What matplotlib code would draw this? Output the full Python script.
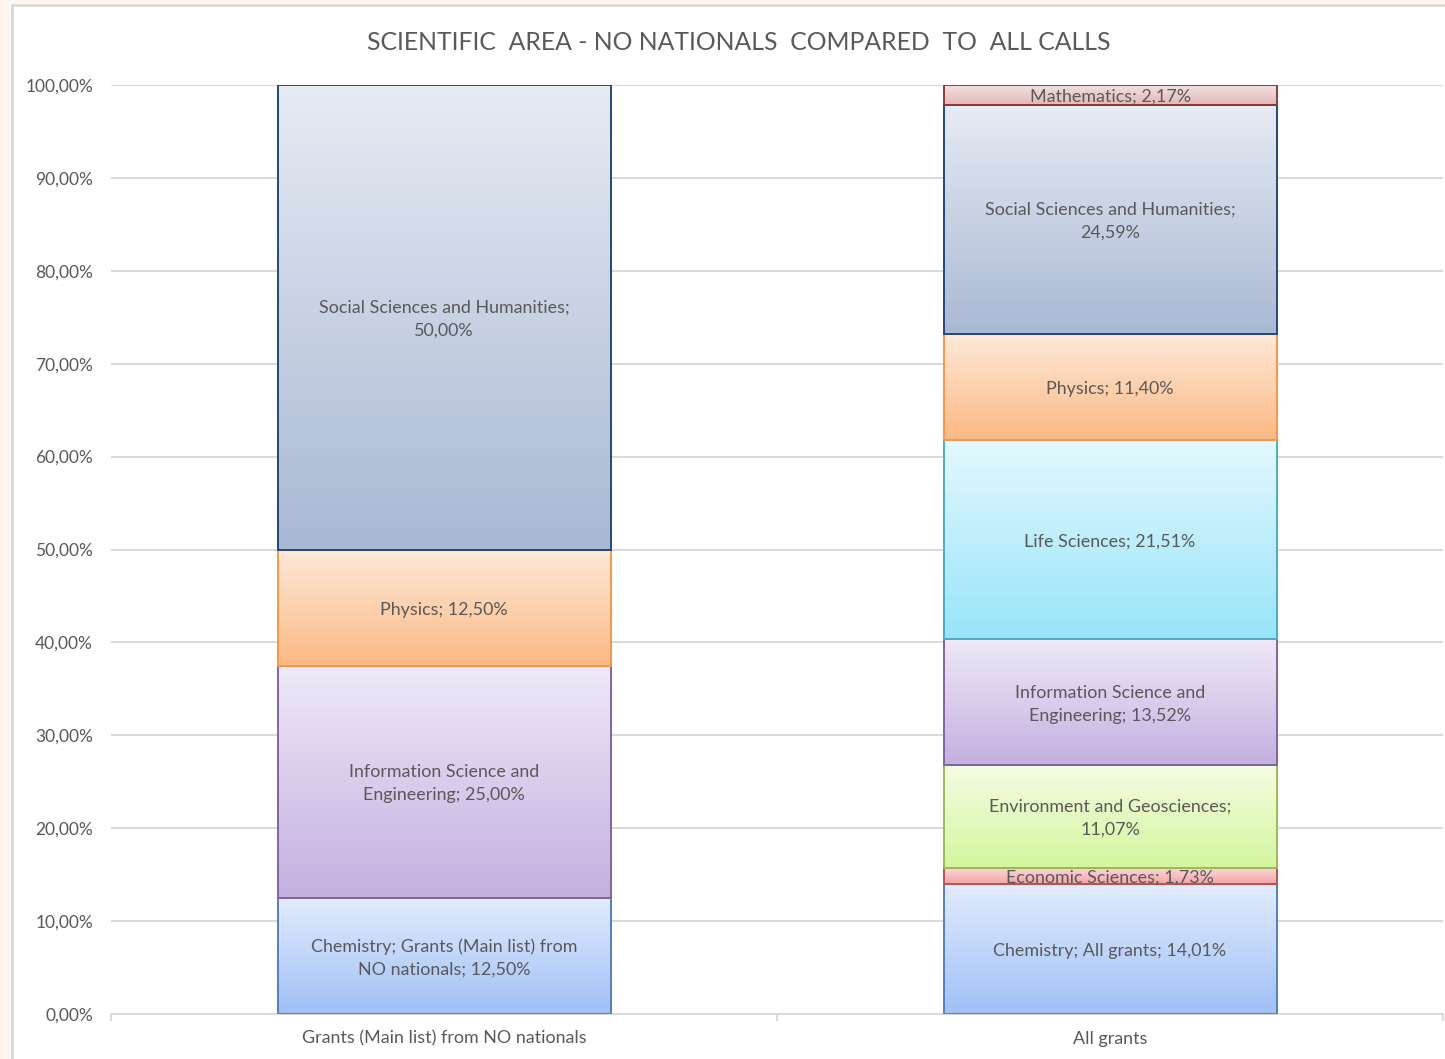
import matplotlib
matplotlib.use("Agg")
import matplotlib.pyplot as plt
import numpy as np
from matplotlib.patches import Rectangle
from matplotlib.colors import LinearSegmentedColormap
from matplotlib.ticker import FuncFormatter, FixedLocator
from matplotlib.transforms import offset_copy

plt.rcParams['font.family'] = ['Lato', 'DejaVu Sans']

categories = ["Grants (Main list) from NO nationals", "All grants"]
areas = ["Chemistry", "Economic Sciences", "Environment and Geosciences",
         "Information Science and Engineering", "Life Sciences", "Physics",
         "Social Sciences and Humanities", "Mathematics"]
no_nationals = [12.50, 0.0, 0.0, 25.00, 0.0, 12.50, 50.00, 0.0]
all_grants = [14.01, 1.73, 11.07, 13.52, 21.51, 11.40, 24.59, 2.17]

# label texts (manually wrapped as in the original)
labels_left = {
    "Chemistry": "Chemistry; Grants (Main list) from\nNO nationals; 12,50%",
    "Information Science and Engineering": "Information Science and\nEngineering; 25,00%",
    "Physics": "Physics; 12,50%",
    "Social Sciences and Humanities": "Social Sciences and Humanities;\n50,00%",
}
labels_right = {
    "Chemistry": "Chemistry; All grants; 14,01%",
    "Economic Sciences": "Economic Sciences; 1,73%",
    "Environment and Geosciences": "Environment and Geosciences;\n11,07%",
    "Information Science and Engineering": "Information Science and\nEngineering; 13,52%",
    "Life Sciences": "Life Sciences; 21,51%",
    "Physics": "Physics; 11,40%",
    "Social Sciences and Humanities": "Social Sciences and Humanities;\n24,59%",
    "Mathematics": "Mathematics; 2,17%",
}

# (top colour, bottom colour, edge colour)
styles = {
    "Chemistry": ("#e3ecfc", "#9fc0f7", "#4f81bd"),
    "Economic Sciences": ("#fbdcdc", "#f4a3a3", "#c0504d"),
    "Environment and Geosciences": ("#f4fde4", "#d4f59c", "#9bbb59"),
    "Information Science and Engineering": ("#efe9f7", "#c3b0e0", "#8064a2"),
    "Life Sciences": ("#e4f8fe", "#97e5fa", "#4bacc6"),
    "Physics": ("#fee9d9", "#fbb983", "#f79646"),
    "Social Sciences and Humanities": ("#e7ebf3", "#a9b8d3", "#1f497d"),
    "Mathematics": ("#f3e1e1", "#e2b8b8", "#953735"),
}

W, H = 1445, 1059
fig = plt.figure(figsize=(W / 100, H / 100), dpi=100)
fig.patch.set_facecolor("#fdf5ee")
bg = Rectangle((12 / W, -0.01), 1.0, 1.01 - 5 / H, transform=fig.transFigure,
               facecolor="white", edgecolor="#d9d9d9", linewidth=2.0, zorder=-10)
fig.add_artist(bg)

ax = fig.add_axes([111 / W, 1 - 1014 / H, (1443 - 111) / W, (1014 - 85) / H])
ax.set_facecolor("none")
ax.set_zorder(1)
text_tr = offset_copy(ax.transData, fig=fig, x=0, y=-2, units="dots")

x = np.arange(len(categories))
series = [no_nationals, all_grants]
label_maps = [labels_left, labels_right]

grad = np.linspace(0, 1, 256).reshape(-1, 1)
bottoms = np.zeros(len(categories))
for i, area in enumerate(areas):
    vals = np.array([s[i] for s in series])
    top_c, bot_c, edge_c = styles[area]
    cmap = LinearSegmentedColormap.from_list(area, [top_c, bot_c])
    bars = ax.bar(x, vals, width=0.5, bottom=bottoms, facecolor="none",
                  edgecolor=edge_c, linewidth=1.4, zorder=3)
    for j, b in enumerate(bars):
        if vals[j] <= 0:
            b.set_visible(False)
            continue
        x0, y0, w, h = b.get_x(), b.get_y(), b.get_width(), b.get_height()
        im = ax.imshow(grad, cmap=cmap, aspect="auto",
                       extent=(x0, x0 + w, y0, y0 + h), origin="upper",
                       zorder=2, interpolation="bilinear")
        im.set_clip_path(b)
        txt = label_maps[j].get(area)
        if txt:
            ax.text(x0 + w / 2, y0 + h / 2, txt, ha="center", va="center",
                    fontsize=12.9, color="#595959", zorder=5, linespacing=1.55,
                    transform=text_tr)
    bottoms = bottoms + vals

ax.set_xlim(-0.5, 1.5)
ax.set_ylim(0, 100)
ax.yaxis.set_major_locator(FixedLocator(np.arange(0, 101, 10)))
ax.yaxis.set_major_formatter(FuncFormatter(lambda v, p: f"{v:.2f}".replace(".", ",") + "%"))
ax.grid(axis="y", color="#d9d9d9", linewidth=1.4, zorder=0)
ax.set_axisbelow(True)
for s in ["top", "right", "left"]:
    ax.spines[s].set_visible(False)
ax.spines["bottom"].set_color("#d9d9d9")
ax.spines["bottom"].set_linewidth(1.4)
ax.tick_params(axis="y", length=0, labelsize=12.5, labelcolor="#595959", pad=13)
ax.set_xticks(x)
ax.set_xticklabels(categories)
ax.tick_params(axis="x", length=0, labelsize=12.9, labelcolor="#595959", pad=12)
ax.set_xticks([-0.5, 0.5, 1.5], minor=True)
ax.tick_params(axis="x", which="minor", length=5, color="#d9d9d9", width=1.4)

fig.text(739 / W, 1 - 43 / H, "SCIENTIFIC  AREA - NO NATIONALS  COMPARED  TO  ALL CALLS",
         ha="center", va="center", fontsize=17.8, color="#595959")

fig.savefig("out.png", dpi=100, facecolor=fig.get_facecolor())
